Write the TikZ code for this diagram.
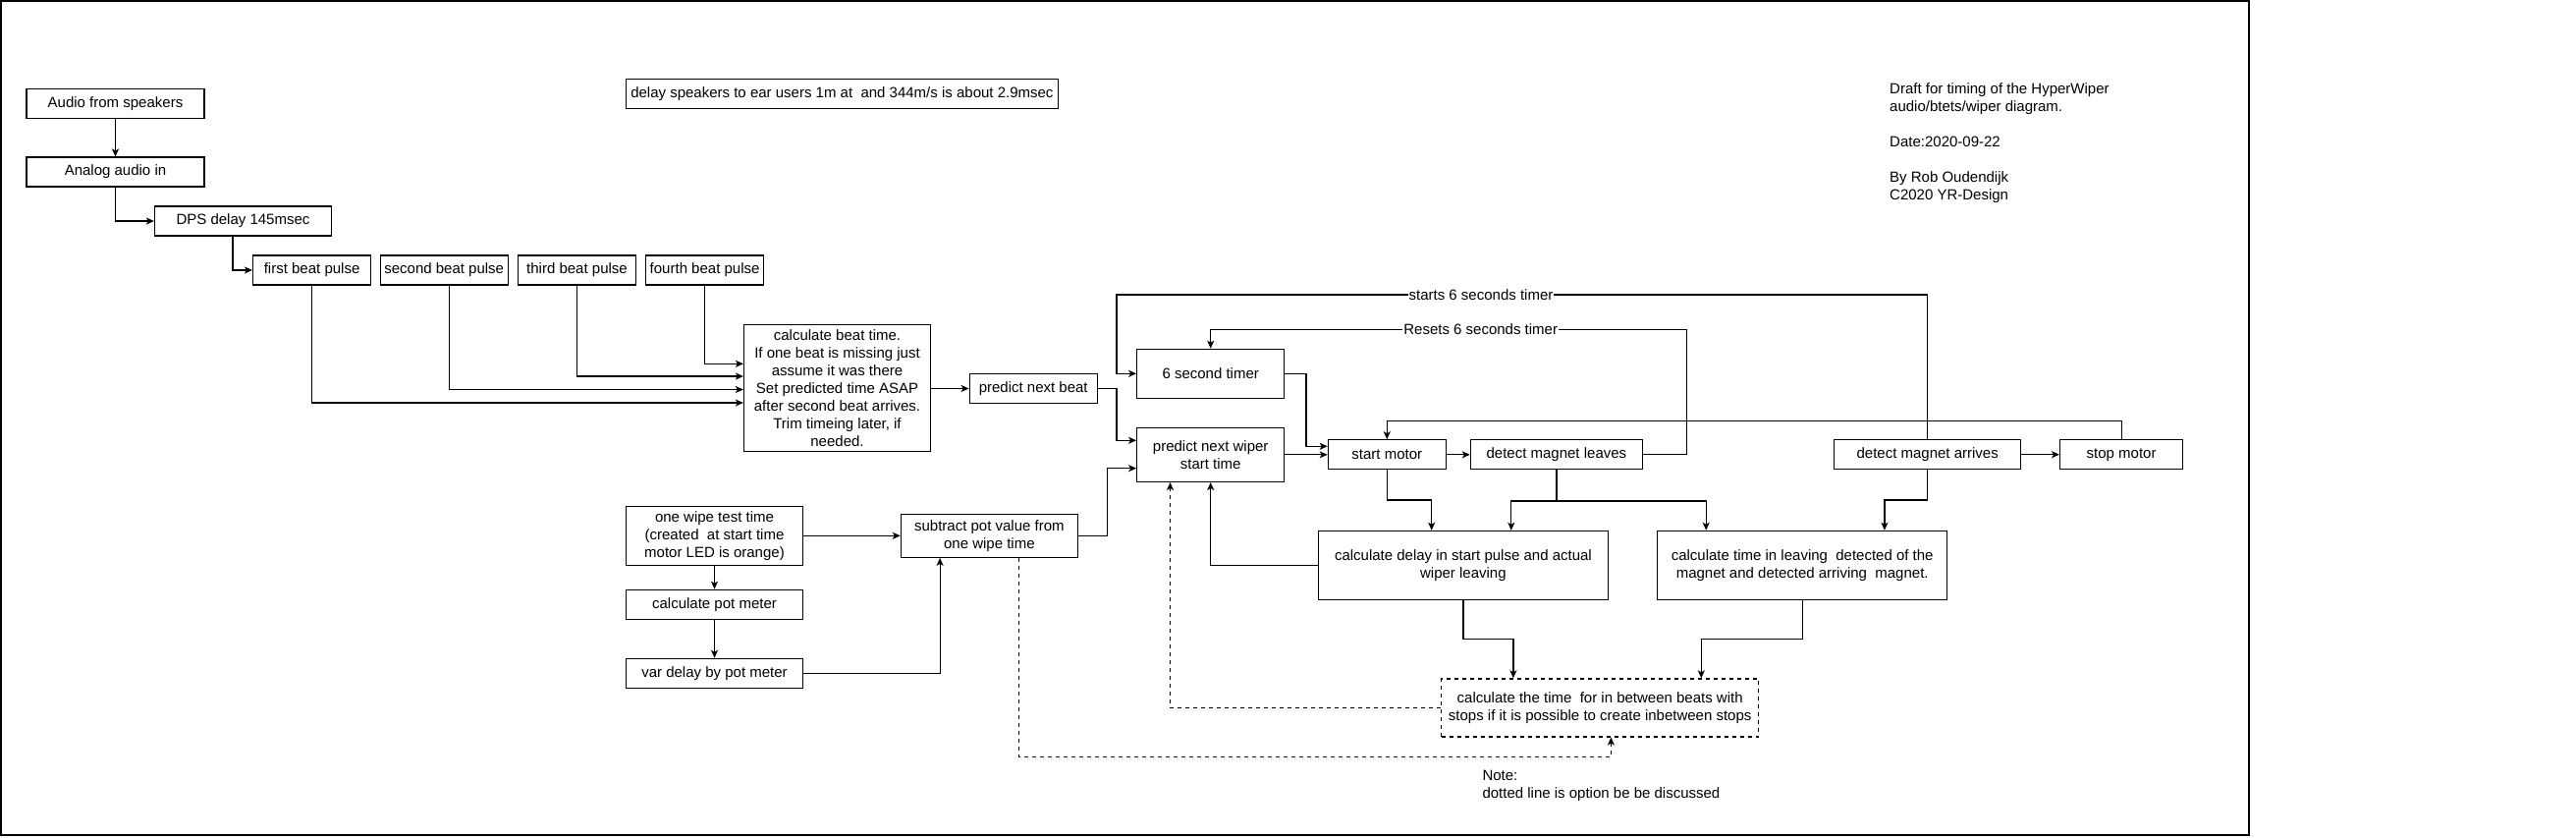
\documentclass[tikz,border=0pt]{standalone}
\usepackage{fontspec}
\setmainfont{Liberation Sans}
\usetikzlibrary{arrows.meta,calc}
\begin{document}
\begin{tikzpicture}[x=1pt,y=-1pt,
  every node/.style={font=\fontsize{15pt}{18pt}\selectfont},
  box/.style={draw,line width=1.2pt,inner sep=2pt,align=center},
  dbox/.style={box,dash pattern=on 4pt off 4pt},
  conn/.style={line width=1.2pt,-{Stealth[length=8pt,width=7pt,inset=2pt]}},
  dconn/.style={conn,dash pattern=on 4pt off 4pt},
  lbl/.style={fill=white,inner sep=1pt},
  plain/.style={inner sep=0pt,align=left}
]
\useasboundingbox (0,0) rectangle (2623,852);
\draw[line width=1.3pt] (1,1) rectangle (2290,850);

% nodes
\node[box,minimum width=181pt,minimum height=30pt] (audio) at (117.5,105.5) {Audio from speakers};
\node[box,minimum width=181pt,minimum height=30pt] (analog) at (117.5,175) {Analog audio in};
\node[box,minimum width=180pt,minimum height=30pt] (dps) at (247.5,225) {DPS delay 145msec};
\node[box,minimum width=120pt,minimum height=30pt] (first) at (317.6,275) {first beat pulse};
\node[box,minimum width=130pt,minimum height=30pt] (second) at (452.2,275) {second beat pulse};
\node[box,minimum width=120pt,minimum height=30pt] (third) at (587.5,275) {third beat pulse};
\node[box,minimum width=120pt,minimum height=30pt] (fourth) at (717.6,275) {fourth beat pulse};
\node[box,minimum width=440pt,minimum height=30pt] (note) at (857.4,95.3) {delay speakers to ear users 1m at\ \ and 344m/s is about 2.9msec};
\node[box,minimum width=190pt,minimum height=129pt] (calc) at (852.5,395.3) {calculate beat time.\\If one beat is missing just\\assume it was there\\Set predicted time ASAP\\after second beat arrives.\\Trim timeing later, if\\needed.};
\node[box,minimum width=130pt,minimum height=30pt] (nextbeat) at (1052.2,395.5) {predict next beat};
\node[box,minimum width=150pt,minimum height=50pt] (timer) at (1232.7,380.3) {6 second timer};
\node[box,minimum width=150pt,minimum height=55pt] (wiper) at (1232.7,462.9) {predict next wiper\\start time};
\node[box,minimum width=120pt,minimum height=30pt] (start) at (1412.3,462.8) {start motor};
\node[box,minimum width=175pt,minimum height=30pt] (leaves) at (1584.9,462.8) {detect magnet leaves};
\node[box,minimum width=190pt,minimum height=30pt] (arrives) at (1962.7,462.7) {detect magnet arrives};
\node[box,minimum width=125pt,minimum height=30pt] (stop) at (2160.1,462.7) {stop motor};
\node[box,minimum width=295pt,minimum height=70pt] (cdelay) at (1489.9,575.4) {calculate delay in start pulse and actual\\wiper leaving};
\node[box,minimum width=295pt,minimum height=70pt] (ctime) at (1835.2,575.4) {calculate time in leaving\ \ detected of the\\magnet and detected arriving\ \ magnet.};
\node[dbox,minimum width=323pt,minimum height=59pt] (between) at (1629.2,720.4) {calculate the time\ \ for in between beats with\\stops if it is possible to create inbetween stops};
\node[box,minimum width=180pt,minimum height=60pt] (onewipe) at (727.5,545.3) {one wipe test time\\(created\ \ at start time\\motor LED is orange)};
\node[box,minimum width=180pt,minimum height=30pt] (calcpot) at (727.5,615.3) {calculate pot meter};
\node[box,minimum width=180pt,minimum height=30pt] (vardelay) at (727.5,685.3) {var delay by pot meter};
\node[box,minimum width=180pt,minimum height=44pt] (subtract) at (1007.4,545.3) {subtract pot value from\\one wipe time};
\node[plain,anchor=base west] (title) at (1924,203) {Draft for timing of the HyperWiper\\audio/btets/wiper diagram.\\[18pt]Date:2020-09-22\\[18pt]By Rob Oudendijk\\C2020 YR-Design};
\node[plain,anchor=base west] (notetext) at (1509.3,812.3) {Note:\\dotted line is option be be discussed};

% connectors left part
\draw[conn] (audio) -- (analog);
\draw[conn] (analog.south) |- (dps.west);
\draw[conn] (dps.south -| 237,0) |- (first.west);
\draw[conn] (first.south) |- (calc.west |- 0,410);
\draw[conn] (second.south -| 457.7,0) |- (calc.west |- 0,396.5);
\draw[conn] (third.south) |- (calc.west |- 0,383);
\draw[conn] (fourth.south) |- (calc.west |- 0,370.3);
\draw[conn] (calc.east |- nextbeat.west) -- (nextbeat.west);
\draw[conn] (nextbeat.east) -- (1137,395.5) |- (wiper.west |- 0,448.3);

% timers
\draw[conn] (arrives.north) |- (1137,300) |- (timer.west);
\node[lbl] (startslbl) at (1508,300) {starts 6 seconds timer};
\draw[conn] (leaves.east) -| (1717.3,335.3) -| (timer.north);
\node[lbl] (resetslbl) at (1507.7,335.3) {Resets 6 seconds timer};
\draw[conn] (timer.east) -| (1330,454.3) -- (start.west |- 0,454.3);
\draw[conn] (wiper.east |- start.west) -- (start.west);
\draw[conn] (start) -- (leaves);
\draw[conn] (arrives) -- (stop);
\draw[conn] (stop.north) |- (1412.3,428.3) -- (start.north);

% lower middle
\draw[conn] (start.south) |- (1457.7,509) -- (cdelay.north -| 1457.7,0);
\draw[conn] (leaves.south) |- (1538.8,510) -- (cdelay.north -| 1538.8,0);
\draw[conn] (leaves.south) |- (1737.2,510) -- (ctime.north -| 1737.2,0);
\draw[conn] (arrives.south) |- (1918.9,509) -- (ctime.north -| 1918.9,0);
\draw[conn] (cdelay.west) -| (wiper.south);
\draw[conn] (cdelay.south) |- (1540.9,650.3) -- (between.north -| 1540.9,0);
\draw[conn] (ctime.south) |- (1732.3,650.3) -- (between.north -| 1732.3,0);
\draw[dconn] (between.west) -| (wiper.south -| 1191.5,0);

% pot meter part
\draw[conn] (onewipe) -- (subtract);
\draw[conn] (onewipe) -- (calcpot);
\draw[conn] (calcpot) -- (vardelay);
\draw[conn] (vardelay.east) -| (subtract.south -| 957.1,0);
\draw[conn] (subtract.east) -| (1127.7,476.7) -- (wiper.west |- 0,476.7);
\draw[dconn] (subtract.south -| 1037.5,0) |- (1640.4,770.3) -- (between.south -| 1640.4,0);
\end{tikzpicture}
\end{document}
